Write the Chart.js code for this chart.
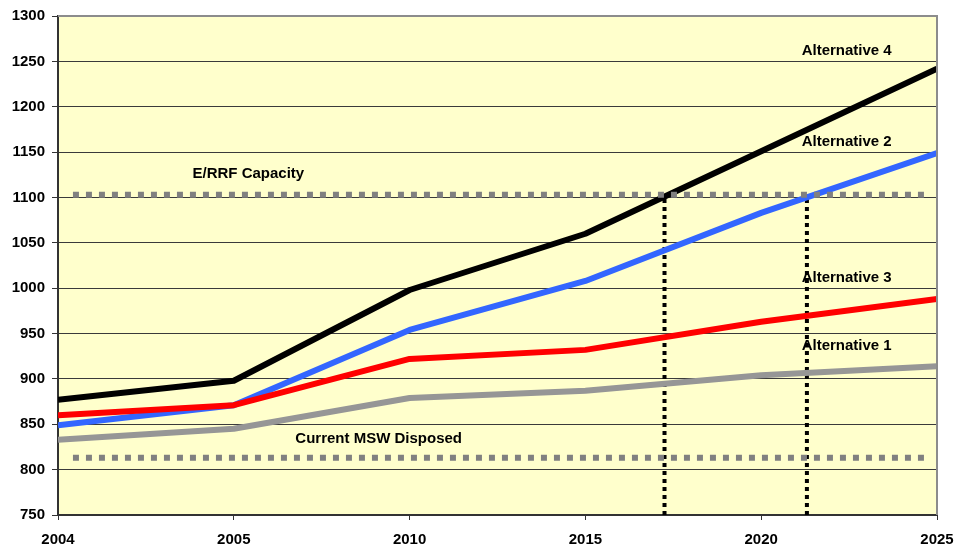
<!DOCTYPE html>
<html>
<head>
<meta charset="utf-8">
<script src="https://cdn.jsdelivr.net/npm/chart.js@4/dist/chart.umd.min.js"></script>
<style>
  html, body { margin: 0; padding: 0; background: #fff; }
  #wrap { width: 966px; height: 548px; }
</style>
</head>
<body>
<div id="wrap"><canvas id="mswChart" width="966" height="548"></canvas></div>
<script>
// categories and series
const years = ['2004', '2005', '2010', '2015', '2020', '2025'];
const alternative4 = [877, 898, 998, 1060, 1151, 1242];
const alternative2 = [849, 871, 954, 1008, 1083, 1149];
const alternative3 = [860, 871, 922, 932, 963, 988];
const alternative1 = [833, 845, 879, 887, 904, 914];
const yTicks = [750, 800, 850, 900, 950, 1000, 1050, 1100, 1150, 1200, 1250, 1300];

// reference levels
const capacity = 1103;      // E/RRF Capacity
const disposed = 813;       // Current MSW Disposed
const refSpan = [0.085, 4.94];   // where the dotted reference lines start/end (category index)
const crossings = [3.45, 4.26];  // where Alt 4 / Alt 2 hit capacity (category index)

const toPoints = arr => arr.map((v, i) => ({ x: i, y: v }));

// text labels on the plot
const notes = [
    { text: 'Alternative 4', x: 4.23, y: 1262 },
    { text: 'Alternative 2', x: 4.23, y: 1161 },
    { text: 'Alternative 3', x: 4.23, y: 1011 },
    { text: 'Alternative 1', x: 4.23, y: 936 },
    { text: 'E/RRF Capacity', x: 0.765, y: 1126 },
    { text: 'Current MSW Disposed', x: 1.35, y: 834 }
];

const FONT = '"Liberation Sans", Arial, sans-serif';

const plotFrame = {
    id: 'plotFrame',
    beforeDraw(chart) {
        const { ctx, chartArea: a } = chart;
        ctx.save();
        ctx.fillStyle = '#FFFFCC';
        ctx.fillRect(a.left, a.top, a.right - a.left, a.bottom - a.top);
        ctx.restore();
    },
    afterDraw(chart) {
        const { ctx, chartArea: a, scales } = chart;
        ctx.save();
        // top + right border in gray
        ctx.strokeStyle = '#8c8c8c';
        ctx.lineWidth = 2;
        ctx.beginPath();
        ctx.moveTo(a.left, a.top);
        ctx.lineTo(a.right, a.top);
        ctx.lineTo(a.right, a.bottom);
        ctx.stroke();

        ctx.fillStyle = '#000';
        ctx.font = 'bold 15px ' + FONT;
        ctx.textAlign = 'left';
        ctx.textBaseline = 'middle';
        notes.forEach(n => {
            ctx.fillText(n.text, scales.x.getPixelForValue(n.x), scales.y.getPixelForValue(n.y));
        });
        ctx.restore();
    }
};

const lineStyle = (label, color, values) => ({
    label: label,
    data: toPoints(values),
    borderColor: color,
    borderWidth: 6,
    borderJoinStyle: 'round',
    pointRadius: 0,
    tension: 0,
    fill: false
});

const hRef = (label, level) => ({
    label: label,
    data: [{ x: refSpan[0], y: level }, { x: refSpan[1], y: level }],
    borderColor: '#808080',
    borderWidth: 6,
    borderDash: [6, 7],
    borderCapStyle: 'butt',
    pointRadius: 0,
    fill: false
});

const vRef = (label, xi) => ({
    label: label,
    data: [{ x: xi, y: 750 }, { x: xi, y: capacity }],
    borderColor: '#000',
    borderWidth: 4,
    borderDash: [4, 4],
    borderCapStyle: 'butt',
    pointRadius: 0,
    fill: false
});

new Chart(document.getElementById('mswChart'), {
    type: 'line',
    data: {
        datasets: [
            hRef('E/RRF Capacity', capacity),
            hRef('Current MSW Disposed', disposed),
            lineStyle('Alternative 1', '#969696', alternative1),
            lineStyle('Alternative 3', '#FF0000', alternative3),
            lineStyle('Alternative 2', '#3366FF', alternative2),
            lineStyle('Alternative 4', '#000000', alternative4),
            vRef('Alt 4 crossing', crossings[0]),
            vRef('Alt 2 crossing', crossings[1])
        ]
    },
    options: {
        responsive: false,
        animation: false,
        layout: { padding: { left: 0, right: 29, top: 16, bottom: 0 } },
        plugins: {
            legend: { display: false },
            tooltip: { enabled: false }
        },
        scales: {
            x: {
                type: 'linear',
                min: 0,
                max: years.length - 1,
                afterFit: s => { s.height = 33; },
                afterBuildTicks: s => { s.ticks = years.map((y, i) => ({ value: i })); },
                ticks: {
                    color: '#000',
                    font: { family: FONT, size: 15, weight: 'bold' },
                    padding: 11,
                    maxRotation: 0,
                    autoSkip: false,
                    callback: v => years[v]
                },
                grid: {
                    drawOnChartArea: false,
                    drawTicks: true,
                    tickLength: 5,
                    tickColor: '#333',
                    lineWidth: 1
                },
                border: { color: '#333', width: 2 }
            },
            y: {
                min: 750,
                max: 1300,
                afterFit: s => { s.width = 58; },
                afterBuildTicks: s => { s.ticks = yTicks.map(v => ({ value: v })); },
                ticks: {
                    color: '#000',
                    font: { family: FONT, size: 15, weight: 'bold' },
                    padding: 7,
                    callback: v => String(v)
                },
                grid: {
                    color: '#3a3a3a',
                    lineWidth: 1,
                    tickLength: 6,
                    tickColor: '#333'
                },
                border: { color: '#333', width: 2 }
            }
        }
    },
    plugins: [plotFrame]
});
</script>
</body>
</html>
